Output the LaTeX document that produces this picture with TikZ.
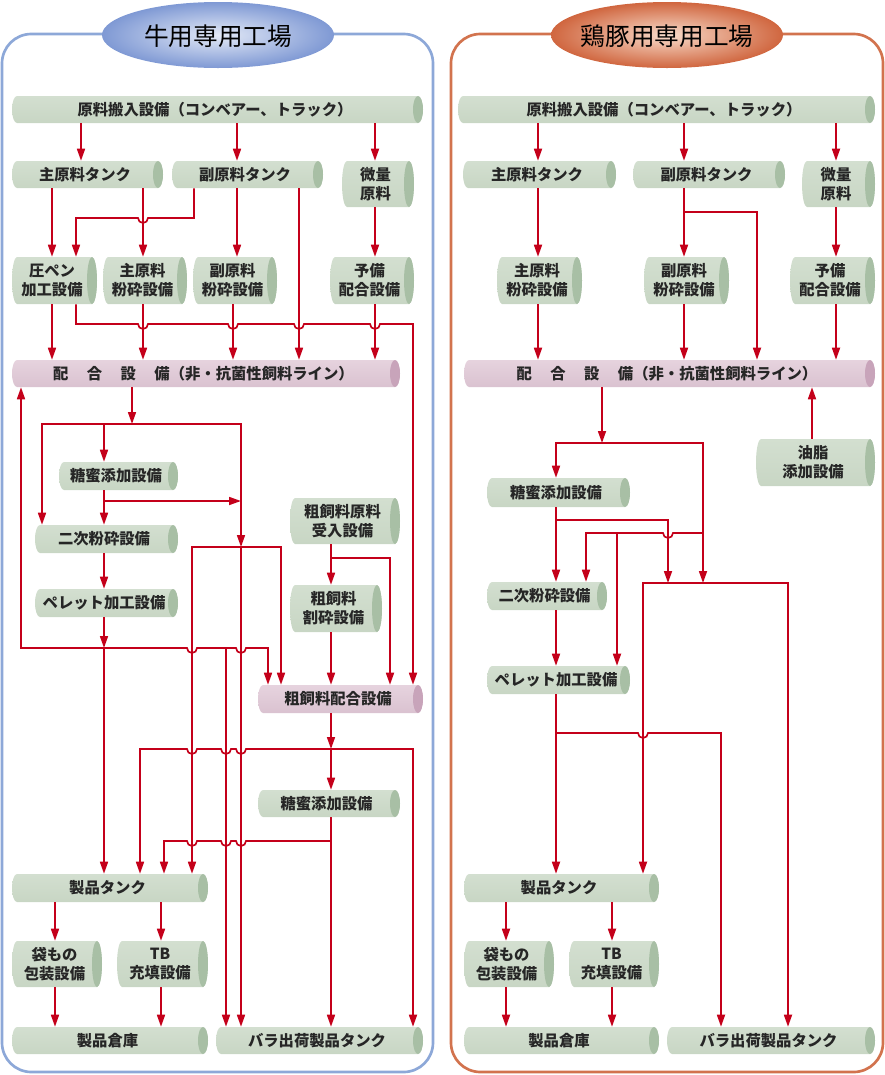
\documentclass[tikz,border=0pt]{standalone}
\usepackage{fontspec}
\setmainfont{Noto Sans CJK JP}
\usetikzlibrary{arrows.meta}
\definecolor{arrred}{HTML}{C4001A}
\definecolor{txtgray}{HTML}{262626}
\definecolor{gtop}{HTML}{D3DFD0}
\definecolor{gmid}{HTML}{EEF3EC}
\definecolor{gbot}{HTML}{C8D6C4}
\definecolor{gcap}{HTML}{A8BFA5}
\definecolor{ptop}{HTML}{E6D3DE}
\definecolor{pmid}{HTML}{F7EEF3}
\definecolor{pbot}{HTML}{DAC2D0}
\definecolor{pcap}{HTML}{C8A4BA}
\definecolor{bborder}{HTML}{8DA8D8}
\definecolor{oborder}{HTML}{D2734E}
\definecolor{bin}{HTML}{E4EAF7}
\definecolor{bout}{HTML}{7F99D4}
\definecolor{oin}{HTML}{F8DCCB}
\definecolor{oout}{HTML}{D0663F}
\tikzset{
  ln/.style={draw=arrred, line width=1.25pt},
  arr/.style={ln, -{Triangle[length=9pt,width=6pt]}},
  boxtext/.style={inner sep=0pt, align=center, text=txtgray,
    font=\bfseries\fontsize{11.5pt}{14.3pt}\selectfont},
  titletext/.style={inner sep=0pt, text=black, font=\fontsize{18.5pt}{20pt}\selectfont},
  greenbody/.style={top color=gtop, middle color=gmid, bottom color=gbot},
  greencap/.style={fill=gcap},
  pinkbody/.style={top color=ptop, middle color=pmid, bottom color=pbot},
  pinkcap/.style={fill=pcap},
}
\newcommand\cyl[7]{%
  \pgfmathsetmacro\cxa{#3+5}%
  \pgfmathsetmacro\cxb{#5-5}%
  \pgfmathsetmacro\cmy{(#4+#6)/2}%
  \pgfmathsetmacro\cry{(#6-#4)/2*0.75}%
  \pgfmathsetmacro\cw{(#5-#3-5)*0.75}%
  \pgfmathsetmacro\ch{(#6-#4)*0.75}%
  \pgfmathsetmacro\ccx{(#3+#5-5)/2}%
  \shade[#1body] (\cxa,#4) -- (\cxb,#4) arc[start angle=90,end angle=-90,x radius=3.75pt,y radius=\cry pt]
     -- (\cxa,#6) arc[start angle=270,end angle=90,x radius=3.75pt,y radius=\cry pt] -- cycle;
  \fill[#1cap] (\cxb,\cmy) ellipse[x radius=3.75pt,y radius=\cry pt];
  \node[boxtext, minimum width=\cw pt, minimum height=\ch pt] (#2) at (\ccx,\cmy) {#7};
}
\begin{document}
\begin{tikzpicture}[x=0.75pt,y=-0.75pt]
\useasboundingbox (0,0) rectangle (885,1075);
% panels
\draw[bborder, line width=2pt, rounded corners=22pt] (2,34) rectangle (433,1072);
\draw[oborder, line width=2pt, rounded corners=22pt] (451,34) rectangle (883,1072);
\shade[inner color=bin, outer color=bout] (218,35) ellipse[x radius=87pt,y radius=24.75pt];
\node[titletext] (Ltitle) at (218,36) {牛用専用工場};
\shade[inner color=oin, outer color=oout] (667,35) ellipse[x radius=87pt,y radius=24.75pt];
\node[titletext] (Rtitle) at (667,36) {鶏豚用専用工場};

% ---------------- left nodes
\cyl{green}{Lsrc}{12}{96}{423}{123}{原料搬入設備（コンベアー、トラック）}
\cyl{green}{Lmain}{12}{161}{163}{188}{主原料タンク}
\cyl{green}{Lsub}{172}{161}{323}{188}{副原料タンク}
\cyl{green}{Lmicro}{342}{161}{414}{207}{微量\\原料}
\cyl{green}{Lpress}{12}{257}{97}{304}{圧ペン\\加工設備}
\cyl{green}{Lmgrind}{103}{257}{187}{304}{主原料\\粉砕設備}
\cyl{green}{Lsgrind}{193}{257}{277}{304}{副原料\\粉砕設備}
\cyl{green}{Lpre}{330}{257}{414}{304}{予備\\配合設備}
\cyl{pink}{Lmix}{12}{360}{400}{387}{配\hspace{1.2em}合\hspace{1.2em}設\hspace{1.2em}備（非・抗菌性飼料ライン）}
\cyl{green}{Lmol}{59}{462}{178}{490}{糖蜜添加設備}
\cyl{green}{Lsec}{35}{525}{178}{553}{二次粉砕設備}
\cyl{green}{Lpel}{35}{589}{178}{617}{ペレット加工設備}
\cyl{green}{Lrough}{290}{498}{400}{544}{粗飼料原料\\受入設備}
\cyl{green}{Lcrush}{290}{585}{382}{632}{粗飼料\\割砕設備}
\cyl{pink}{Lrmix}{258}{685}{423}{713}{粗飼料配合設備}
\cyl{green}{Lmol2}{258}{790}{400}{817}{糖蜜添加設備}
\cyl{green}{Ltank}{12}{874}{208}{902}{製品タンク}
\cyl{green}{Lbag}{12}{941}{102}{987}{袋もの\\包装設備}
\cyl{green}{Ltb}{117}{941}{208}{987}{TB\\充填設備}
\cyl{green}{Lware}{12}{1027}{208}{1054}{製品倉庫}
\cyl{green}{Lbulk}{216}{1027}{423}{1054}{バラ出荷製品タンク}

% ---------------- right nodes
\cyl{green}{Rsrc}{458}{96}{875}{123}{原料搬入設備（コンベアー、トラック）}
\cyl{green}{Rmain}{463}{161}{616}{188}{主原料タンク}
\cyl{green}{Rsub}{633}{161}{785}{188}{副原料タンク}
\cyl{green}{Rmicro}{802}{161}{875}{207}{微量\\原料}
\cyl{green}{Rmgrind}{497}{257}{582}{304}{主原料\\粉砕設備}
\cyl{green}{Rsgrind}{644}{257}{729}{304}{副原料\\粉砕設備}
\cyl{green}{Rpre}{790}{257}{875}{304}{予備\\配合設備}
\cyl{pink}{Rmix}{464}{360}{875}{387}{配\hspace{1.2em}合\hspace{1.2em}設\hspace{1.2em}備（非・抗菌性飼料ライン）}
\cyl{green}{Roil}{756}{439}{875}{486}{油脂\\添加設備}
\cyl{green}{Rmol}{487}{478}{630}{507}{糖蜜添加設備}
\cyl{green}{Rsec}{487}{582}{607}{610}{二次粉砕設備}
\cyl{green}{Rpel}{487}{666}{630}{694}{ペレット加工設備}
\cyl{green}{Rtank}{464}{874}{659}{902}{製品タンク}
\cyl{green}{Rbag}{464}{941}{554}{987}{袋もの\\包装設備}
\cyl{green}{Rtb}{569}{941}{659}{987}{TB\\充填設備}
\cyl{green}{Rware}{464}{1027}{659}{1054}{製品倉庫}
\cyl{green}{Rbulk}{667}{1027}{875}{1054}{バラ出荷製品タンク}

% ---------------- left connectors
\draw[arr] (81,0 |- Lsrc.south) -- (81,0 |- Lmain.north);
\draw[arr] (237,0 |- Lsrc.south) -- (237,0 |- Lsub.north);
\draw[arr] (375,0 |- Lsrc.south) -- (375,0 |- Lmicro.north);
\draw[arr] (52,0 |- Lmain.south) -- (52,0 |- Lpress.north);
\draw[arr] (143,0 |- Lmain.south) -- (143,0 |- Lmgrind.north);
\draw[arr] (194,0 |- Lsub.south) -- (194,218) -- (148,218) arc[start angle=0,end angle=-180,radius=3.75pt] -- (76,218) -- (76,0 |- Lpress.north);
\draw[arr] (237,0 |- Lsub.south) -- (237,0 |- Lsgrind.north);
\draw[arr] (299,0 |- Lsub.south) -- (299,0 |- Lmix.north);
\draw[arr] (375,0 |- Lmicro.south) -- (375,0 |- Lpre.north);
\draw[arr] (52,0 |- Lpress.south) -- (52,0 |- Lmix.north);
\draw[arr] (143,0 |- Lmgrind.south) -- (143,0 |- Lmix.north);
\draw[arr] (233,0 |- Lsgrind.south) -- (233,0 |- Lmix.north);
\draw[arr] (375,0 |- Lpre.south) -- (375,0 |- Lmix.north);
\draw[arr] (76,0 |- Lpress.south) -- (76,324) -- (138,324) arc[start angle=180,end angle=360,radius=3.75pt]
  -- (228,324) arc[start angle=180,end angle=360,radius=3.75pt]
  -- (294,324) arc[start angle=180,end angle=360,radius=3.75pt]
  -- (370,324) arc[start angle=180,end angle=360,radius=3.75pt]
  -- (413,324) -- (413,0 |- Lrmix.north);
\draw[arr] (132,0 |- Lmix.south) -- (132,424);
\draw[arr] (104,424) -- (42,424) -- (42,0 |- Lsec.north);
\draw[arr] (104,424) -- (104,0 |- Lmol.north);
\draw[arr] (104,424) -- (241,424) -- (241,547);
\draw[arr] (104,0 |- Lmol.south) -- (104,0 |- Lsec.north);
\draw[arr] (104,501) -- (241,501);
\draw[arr] (104,0 |- Lsec.south) -- (104,0 |- Lpel.north);
\draw[arr] (104,0 |- Lpel.south) -- (104,648);
\draw[arr] (104,648) -- (104,0 |- Ltank.north);
\draw[arr] (104,648) -- (21,648) -- (21,0 |- Lmix.south);
\draw[arr] (104,648) -- (187,648) arc[start angle=180,end angle=360,radius=3.75pt]
  -- (236,648) arc[start angle=180,end angle=360,radius=3.75pt]
  -- (268,648) -- (268,0 |- Lrmix.north);
\draw[arr] (226,648) -- (226,0 |- Lbulk.north);
\draw[arr] (241,547) -- (192,547) -- (192,0 |- Ltank.north);
\draw[arr] (241,547) -- (281,547) -- (281,0 |- Lrmix.north);
\draw[arr] (241,547) -- (241,0 |- Lbulk.north);
\draw[arr] (331,0 |- Lrough.south) -- (331,0 |- Lcrush.north);
\draw[arr] (331,558) -- (390,558) -- (390,0 |- Lrmix.north);
\draw[arr] (331,0 |- Lcrush.south) -- (331,0 |- Lrmix.north);
\draw[arr] (331,0 |- Lrmix.south) -- (331,749);
\draw[arr] (331,749) -- (331,0 |- Lmol2.north);
\draw[arr] (331,749) -- (246,749) arc[start angle=0,end angle=-180,radius=3.75pt]
  -- (231,749) arc[start angle=0,end angle=-180,radius=3.75pt]
  -- (197,749) arc[start angle=0,end angle=-180,radius=3.75pt]
  -- (140,749) -- (140,0 |- Ltank.north);
\draw[arr] (331,749) -- (413,749) -- (413,0 |- Lbulk.north);
\draw[arr] (331,0 |- Lmol2.south) -- (331,0 |- Lbulk.north);
\draw[arr] (331,841) -- (246,841) arc[start angle=0,end angle=-180,radius=3.75pt]
  -- (231,841) arc[start angle=0,end angle=-180,radius=3.75pt]
  -- (197,841) arc[start angle=0,end angle=-180,radius=3.75pt]
  -- (164,841) -- (164,0 |- Ltank.north);
\draw[arr] (55,0 |- Ltank.south) -- (55,0 |- Lbag.north);
\draw[arr] (161,0 |- Ltank.south) -- (161,0 |- Ltb.north);
\draw[arr] (55,0 |- Lbag.south) -- (55,0 |- Lware.north);
\draw[arr] (161,0 |- Ltb.south) -- (161,0 |- Lware.north);

% ---------------- right connectors
\draw[arr] (538,0 |- Rsrc.south) -- (538,0 |- Rmain.north);
\draw[arr] (684,0 |- Rsrc.south) -- (684,0 |- Rsub.north);
\draw[arr] (836,0 |- Rsrc.south) -- (836,0 |- Rmicro.north);
\draw[arr] (538,0 |- Rmain.south) -- (538,0 |- Rmgrind.north);
\draw[arr] (684,0 |- Rsub.south) -- (684,0 |- Rsgrind.north);
\draw[arr] (684,212) -- (757,212) -- (757,0 |- Rmix.north);
\draw[arr] (836,0 |- Rmicro.south) -- (836,0 |- Rpre.north);
\draw[arr] (538,0 |- Rmgrind.south) -- (538,0 |- Rmix.north);
\draw[arr] (684,0 |- Rsgrind.south) -- (684,0 |- Rmix.north);
\draw[arr] (836,0 |- Rpre.south) -- (836,0 |- Rmix.north);
\draw[arr] (602,0 |- Rmix.south) -- (602,443);
\draw[arr] (602,443) -- (556,443) -- (556,0 |- Rmol.north);
\draw[arr] (602,443) -- (703,443) -- (703,583);
\draw[arr] (812,0 |- Roil.north) -- (812,0 |- Rmix.south);
\draw[arr] (556,0 |- Rmol.south) -- (556,0 |- Rsec.north);
\draw[arr] (556,520) -- (668,520) -- (668,583);
\draw[arr] (703,533) -- (673,533) arc[start angle=0,end angle=-180,radius=3.75pt] -- (586,533) -- (586,0 |- Rsec.north);
\draw[arr] (617,533) -- (617,0 |- Rpel.north);
\draw[arr] (703,583) -- (643,583) -- (643,0 |- Rtank.north);
\draw[arr] (703,583) -- (788,583) -- (788,0 |- Rbulk.north);
\draw[arr] (556,0 |- Rsec.south) -- (556,0 |- Rpel.north);
\draw[arr] (556,0 |- Rpel.south) -- (556,0 |- Rtank.north);
\draw[arr] (556,733) -- (638,733) arc[start angle=180,end angle=360,radius=3.75pt] -- (721,733) -- (721,0 |- Rbulk.north);
\draw[arr] (506,0 |- Rtank.south) -- (506,0 |- Rbag.north);
\draw[arr] (612,0 |- Rtank.south) -- (612,0 |- Rtb.north);
\draw[arr] (506,0 |- Rbag.south) -- (506,0 |- Rware.north);
\draw[arr] (612,0 |- Rtb.south) -- (612,0 |- Rware.north);
\end{tikzpicture}
\end{document}
